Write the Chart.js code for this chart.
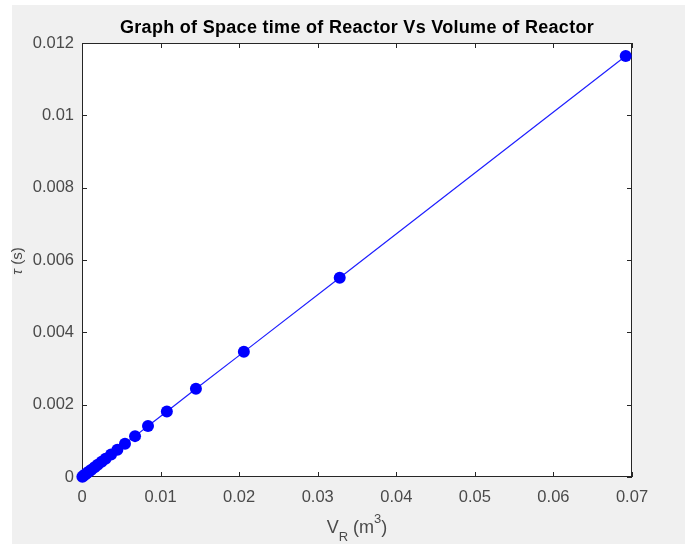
<!DOCTYPE html>
<html>
<head>
<meta charset="utf-8">
<script src="https://cdn.jsdelivr.net/npm/chart.js@4"></script>
<style>
  html, body { margin: 0; padding: 0; background: #fff; }
  #wrap { width: 691px; height: 544px; }
</style>
</head>
<body>
<div id="wrap"><canvas id="chart" width="691" height="544"></canvas></div>
<script>
// reactor volume (m3) and space time (s)
const volumeR = [0.00005, 0.0002, 0.0004, 0.0006, 0.0009, 0.0012, 0.0016, 0.002, 0.0025, 0.003,
  0.0037, 0.0045, 0.00547, 0.00675, 0.0084, 0.0108, 0.0145, 0.0206, 0.0328, 0.0692];
const spaceTime = [0.0000084, 0.0000336, 0.0000672, 0.000101, 0.000151, 0.000202, 0.000269, 0.000336, 0.00042, 0.000504,
  0.000622, 0.000756, 0.00092, 0.00113, 0.00141, 0.00181, 0.00244, 0.00346, 0.00551, 0.01164];
const xTicks = [0, 0.01, 0.02, 0.03, 0.04, 0.05, 0.06, 0.07];
const yTicks = [0, 0.002, 0.004, 0.006, 0.008, 0.01, 0.012];
const titleText = "Graph of Space time of Reactor Vs Volume of Reactor";

const FONT = '"Liberation Sans", Arial, Helvetica, sans-serif';
const AXIS_COLOR = "#262626";
const LABEL_COLOR = "#4a4a4a";

const fmt = v => String(+Number(v).toFixed(4));

// figure background + white plot area
const backdrop = {
  id: "backdrop",
  beforeDraw(chart) {
    const c = chart.ctx, a = chart.chartArea;
    c.save();
    c.fillStyle = "#fff";
    c.fillRect(0, 0, chart.width, chart.height);
    c.fillStyle = "#f0f0f0";
    c.fillRect(12, 5, 673, chart.height - 5);
    c.fillStyle = "#fff";
    c.fillRect(a.left, a.top, a.right - a.left, a.bottom - a.top);
    c.restore();
  }
};

// box, inward ticks, title and axis labels
const decorations = {
  id: "decorations",
  beforeDatasetsDraw(chart) {
    const c = chart.ctx, a = chart.chartArea;
    const xs = chart.scales.x, ys = chart.scales.y;
    c.save();
    c.strokeStyle = AXIS_COLOR;
    c.lineWidth = 1;
    c.strokeRect(a.left + 0.5, a.top + 0.5, a.right - a.left - 1, a.bottom - a.top - 1);
    c.beginPath();
    const len = 5;
    xTicks.forEach(v => {
      const px = Math.round(xs.getPixelForValue(v)) + 0.5;
      c.moveTo(px, a.bottom); c.lineTo(px, a.bottom - len);
      c.moveTo(px, a.top); c.lineTo(px, a.top + len);
    });
    yTicks.forEach(v => {
      const py = Math.round(ys.getPixelForValue(v)) + 0.5;
      c.moveTo(a.left, py); c.lineTo(a.left + len, py);
      c.moveTo(a.right, py); c.lineTo(a.right - len, py);
    });
    c.stroke();

    // title
    c.fillStyle = "#000";
    c.font = "bold 18px " + FONT;
    c.letterSpacing = "0.3px";
    c.textAlign = "center";
    c.textBaseline = "alphabetic";
    const cx = (a.left + a.right) / 2;
    c.fillText(titleText, cx, 33);
    c.letterSpacing = "0px";

    // x label: V_R (m^3)
    c.fillStyle = LABEL_COLOR;
    c.textAlign = "left";
    const big = "18px " + FONT, small = "13px " + FONT;
    c.font = big; const wV = c.measureText("V").width;
    c.font = small; const wR = c.measureText("R").width;
    c.font = big; const wM = c.measureText(" (m").width;
    c.font = small; const w3 = c.measureText("3").width;
    c.font = big; const wP = c.measureText(")").width;
    let x0 = cx - (wV + wR + wM + w3 + wP) / 2;
    const base = 533;
    c.font = big; c.fillText("V", x0, base); x0 += wV;
    c.font = small; c.fillText("R", x0, base + 8); x0 += wR;
    c.font = big; c.fillText(" (m", x0, base); x0 += wM;
    c.font = small; c.fillText("3", x0, base - 10); x0 += w3;
    c.font = big; c.fillText(")", x0, base);

    // y label: tau (s)
    c.translate(18, 261);
    c.rotate(-Math.PI / 2);
    c.textBaseline = "middle";
    c.font = "italic 15px " + FONT;
    const wT = c.measureText("\u03C4").width;
    c.font = "15px " + FONT;
    const wS = c.measureText(" (s)").width;
    c.textAlign = "left";
    let y0 = -(wT + wS) / 2;
    c.font = "italic 15px " + FONT;
    c.fillText("\u03C4", y0, 0);
    c.font = "15px " + FONT;
    c.fillText(" (s)", y0 + wT, 0);
    c.restore();
  }
};

new Chart(document.getElementById("chart"), {
  type: "line",
  data: {
    datasets: [{
      data: volumeR.map((v, i) => ({ x: v, y: spaceTime[i] })),
      borderColor: "#1f1fff",
      borderWidth: 1.2,
      backgroundColor: "#0000ff",
      pointBackgroundColor: "#0000ff",
      pointBorderWidth: 0,
      pointRadius: 6,
      tension: 0,
      clip: false
    }]
  },
  options: {
    responsive: false,
    animation: false,
    events: [],
    layout: { padding: { top: 43, right: 59, left: 0, bottom: 0 } },
    plugins: { legend: { display: false }, tooltip: { enabled: false }, title: { display: false } },
    scales: {
      x: {
        type: "linear",
        min: 0, max: 0.07,
        afterFit(s) { s.height = 67; },
        afterBuildTicks(s) { s.ticks = xTicks.map(v => ({ value: v })); },
        grid: { display: false, drawTicks: false },
        border: { display: false },
        ticks: { padding: 11, color: LABEL_COLOR, font: { family: FONT, size: 16.5 }, callback: fmt, maxRotation: 0 }
      },
      y: {
        type: "linear",
        min: 0, max: 0.012,
        afterFit(s) { s.width = 82; },
        afterBuildTicks(s) { s.ticks = yTicks.map(v => ({ value: v })); },
        grid: { display: false, drawTicks: false },
        border: { display: false },
        ticks: { padding: 8, color: LABEL_COLOR, font: { family: FONT, size: 16.5 }, callback: fmt }
      }
    }
  },
  plugins: [backdrop, decorations]
});
</script>
</body>
</html>
